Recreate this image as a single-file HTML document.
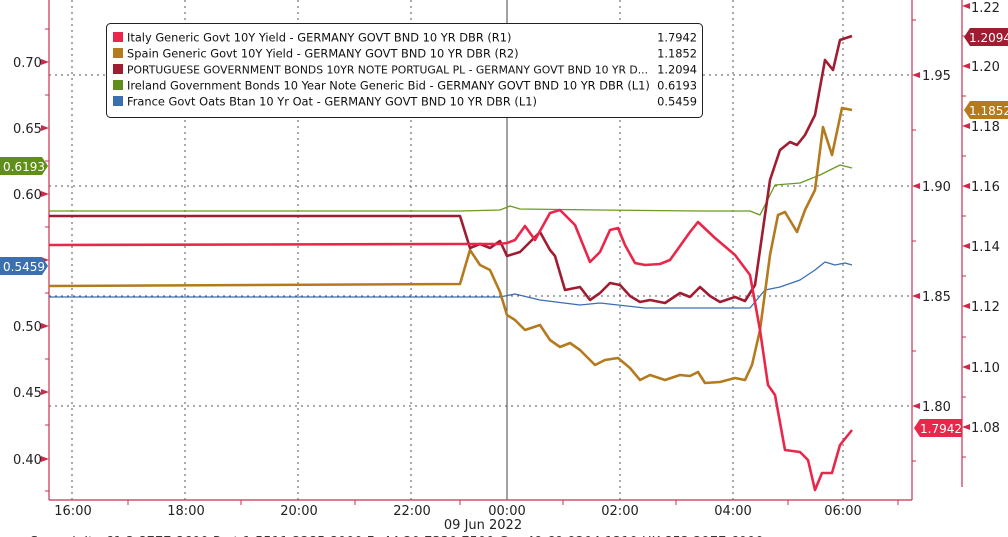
<!DOCTYPE html>
<html><head><meta charset="utf-8"><style>
html,body{margin:0;padding:0;background:#fff;width:1008px;height:537px;overflow:hidden}
svg{display:block}
text{font-family:"DejaVu Sans","Liberation Sans",sans-serif}
</style></head><body>
<svg width="1008" height="537" viewBox="0 0 1008 537" xmlns="http://www.w3.org/2000/svg">
<rect width="1008" height="537" fill="#fff"/>
<g stroke="#555" stroke-width="1" stroke-dasharray="2,4">
<line x1="49" y1="75" x2="912" y2="75"/>
<line x1="49" y1="186" x2="912" y2="186"/>
<line x1="49" y1="296" x2="912" y2="296"/>
<line x1="49" y1="406" x2="912" y2="406"/>
<line x1="72" y1="0" x2="72" y2="500"/>
<line x1="185" y1="0" x2="185" y2="500"/>
<line x1="298" y1="0" x2="298" y2="500"/>
<line x1="411" y1="0" x2="411" y2="500"/>
<line x1="620" y1="0" x2="620" y2="500"/>
<line x1="733" y1="0" x2="733" y2="500"/>
<line x1="843" y1="0" x2="843" y2="500"/>
</g>
<line x1="507" y1="0" x2="507" y2="500" stroke="#444" stroke-width="1"/>
<g stroke="#c8304f" stroke-width="1.2" fill="none">
<line x1="49" y1="0" x2="49" y2="500"/>
<line x1="49" y1="500" x2="912" y2="500"/>
<line x1="912" y1="0" x2="912" y2="500"/>
<line x1="962" y1="0" x2="962" y2="487"/>
</g>
<g fill="#d0284c">
<path d="M49 62 l-8 -3 v6z"/><path d="M49 128 l-8 -3 v6z"/><path d="M49 194 l-8 -3 v6z"/><path d="M49 260 l-8 -3 v6z"/><path d="M49 326 l-8 -3 v6z"/><path d="M49 392 l-8 -3 v6z"/><path d="M49 459 l-8 -3 v6z"/>
<path d="M912 75 l8 -3 v6z"/><path d="M912 186 l8 -3 v6z"/><path d="M912 296 l8 -3 v6z"/><path d="M912 406 l8 -3 v6z"/>
<path d="M962 6 l8 -3 v6z"/><path d="M962 66 l8 -3 v6z"/><path d="M962 126 l8 -3 v6z"/><path d="M962 186 l8 -3 v6z"/><path d="M962 246 l8 -3 v6z"/><path d="M962 306 l8 -3 v6z"/><path d="M962 367 l8 -3 v6z"/><path d="M962 427 l8 -3 v6z"/>
</g>
<g stroke="#c8304f" stroke-width="1">
<line x1="45" y1="29" x2="49" y2="29"/><line x1="45" y1="95" x2="49" y2="95"/><line x1="45" y1="161" x2="49" y2="161"/><line x1="45" y1="227" x2="49" y2="227"/><line x1="45" y1="293" x2="49" y2="293"/><line x1="45" y1="359" x2="49" y2="359"/><line x1="45" y1="425" x2="49" y2="425"/><line x1="45" y1="491" x2="49" y2="491"/>
<line x1="912" y1="20" x2="916" y2="20"/><line x1="912" y1="130" x2="916" y2="130"/><line x1="912" y1="241" x2="916" y2="241"/><line x1="912" y1="351" x2="916" y2="351"/><line x1="912" y1="461" x2="916" y2="461"/>
<line x1="962" y1="36" x2="966" y2="36"/><line x1="962" y1="96" x2="966" y2="96"/><line x1="962" y1="156" x2="966" y2="156"/><line x1="962" y1="216" x2="966" y2="216"/><line x1="962" y1="276" x2="966" y2="276"/><line x1="962" y1="337" x2="966" y2="337"/><line x1="962" y1="397" x2="966" y2="397"/><line x1="962" y1="457" x2="966" y2="457"/>
<line x1="128" y1="500" x2="128" y2="505"/><line x1="241" y1="500" x2="241" y2="505"/><line x1="355" y1="500" x2="355" y2="505"/><line x1="460" y1="500" x2="460" y2="505"/><line x1="563" y1="500" x2="563" y2="505"/><line x1="676" y1="500" x2="676" y2="505"/><line x1="788" y1="500" x2="788" y2="505"/><line x1="898" y1="500" x2="898" y2="505"/>
</g>
<g font-size="13" fill="#222">
<text x="13" y="67">0.70</text><text x="13" y="133">0.65</text><text x="13" y="199">0.60</text><text x="13" y="331">0.50</text><text x="13" y="397">0.45</text><text x="13" y="464">0.40</text>
<text x="922" y="80">1.95</text><text x="922" y="191">1.90</text><text x="922" y="301">1.85</text><text x="922" y="411">1.80</text>
<text x="971" y="12">1.22</text><text x="971" y="71">1.20</text><text x="971" y="131">1.18</text><text x="971" y="191">1.16</text><text x="971" y="251">1.14</text><text x="971" y="311">1.12</text><text x="971" y="372">1.10</text><text x="971" y="432">1.08</text>
</g>
<g font-size="13" fill="#222" text-anchor="middle">
<text x="73" y="515">16:00</text><text x="186" y="515">18:00</text><text x="299" y="515">20:00</text><text x="412" y="515">22:00</text><text x="507" y="515">00:00</text><text x="620" y="515">02:00</text><text x="733" y="515">04:00</text><text x="843" y="515">06:00</text>
<text x="483" y="529">09 Jun 2022</text>
</g>
<text x="30" y="546" font-size="13" fill="#333">Spread: Ita 61.2 8777.8600  Port 1.5511.2285.8000  Fr 44.20.7330.7500  Ger 49.69.9204.1210  HK 852.2977.6000</text>
<g fill="none" stroke-linejoin="round">
<polyline stroke="#6a9a1f" stroke-width="1.3" points="49,211 460,211 500,210 510,206 520,209 600,210 700,211 750,211 760,215 775,185 800,183 820,175 840,165 852,168"/>
<polyline stroke="#3a6fb0" stroke-width="1.3" points="49,297 500,297 515,294 540,300 580,305 600,303 645,308 750,308 765,290 780,287 800,280 815,270 825,262 835,265 845,263 852,265"/>
<polyline stroke="#b47a1e" stroke-width="2.6" points="49,286 460,284 470,250 480,265 490,270 500,292 507,315 515,320 525,330 540,325 550,340 560,347 570,343 580,350 595,365 605,360 618,358 630,368 640,380 650,375 665,380 680,375 690,376 698,372 705,383 720,382 735,378 745,380 752,365 760,330 770,255 778,215 785,212 797,232 805,210 815,190 823,127 832,155 842,108 852,110"/>
<polyline stroke="#a01c30" stroke-width="2.6" points="49,216 460,216 470,248 480,244 490,248 500,241 507,256 520,252 530,242 540,232 550,250 555,256 565,290 580,287 590,300 600,293 610,283 620,285 630,296 640,302 650,300 665,303 680,293 690,297 700,287 710,296 720,302 735,297 745,301 755,285 770,180 780,150 790,142 797,145 805,135 815,115 825,60 833,70 840,40 852,36"/>
<polyline stroke="#e8274a" stroke-width="2.6" points="49,245 460,244 500,244 507,243 515,240 525,226 535,240 550,213 560,210 575,225 590,262 600,252 610,230 618,228 625,245 635,263 645,265 660,264 670,260 680,246 690,232 698,222 715,238 735,255 750,275 760,330 768,385 775,395 785,450 800,452 808,460 815,490 822,473 832,473 840,445 852,430"/>
</g>
<path d="M0 157 H42 L48 166 L42 175 H0Z" fill="#5f8f1a"/><text x="3" y="171" font-size="12" fill="#fff">0.6193</text>
<path d="M0 257 H42 L48 266 L42 275 H0Z" fill="#3a6fb0"/><text x="3" y="271" font-size="12" fill="#fff">0.5459</text>
<path d="M970 28 H1008 V46 H970 L964 37Z" fill="#a01c30"/><text x="969" y="42" font-size="12" fill="#fff">1.2094</text>
<path d="M970 101 H1008 V119 H970 L964 110Z" fill="#b47a1e"/><text x="969" y="115" font-size="12" fill="#fff">1.1852</text>
<path d="M920 419 H962 V437 H920 L914 428Z" fill="#e8274a"/><text x="920" y="433" font-size="12" fill="#fff">1.7942</text>
<rect x="106.5" y="23.5" width="596" height="94" rx="4" fill="#fff" stroke="#222" stroke-width="1"/>
<g font-size="11.4" fill="#111">
<rect x="113" y="32" width="10" height="10" fill="#e8274a"/><text x="127" y="41.5">Italy Generic Govt 10Y Yield - GERMANY GOVT BND 10 YR DBR (R1)</text><text x="697" y="41.5" text-anchor="end">1.7942</text>
<rect x="113" y="48" width="10" height="10" fill="#b47a1e"/><text x="127" y="57.5">Spain Generic Govt 10Y Yield - GERMANY GOVT BND 10 YR DBR (R2)</text><text x="697" y="57.5" text-anchor="end">1.1852</text>
<rect x="113" y="64" width="10" height="10" fill="#a01c30"/><text x="127" y="73.5" font-size="10.8">PORTUGUESE GOVERNMENT BONDS 10YR NOTE PORTUGAL PL - GERMANY GOVT BND 10 YR D...</text><text x="697" y="73.5" text-anchor="end">1.2094</text>
<rect x="113" y="80" width="10" height="10" fill="#5f8f1a"/><text x="127" y="89.5">Ireland Government Bonds 10 Year Note Generic Bid - GERMANY GOVT BND 10 YR DBR (L1)</text><text x="697" y="89.5" text-anchor="end">0.6193</text>
<rect x="113" y="96" width="10" height="10" fill="#3a6fb0"/><text x="127" y="105.5">France Govt Oats Btan 10 Yr Oat - GERMANY GOVT BND 10 YR DBR (L1)</text><text x="697" y="105.5" text-anchor="end">0.5459</text>
</g>
</svg>
</body></html>
